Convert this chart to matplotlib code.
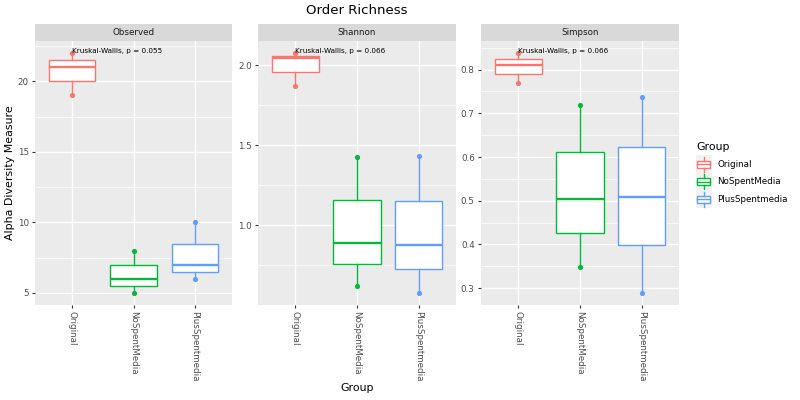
import matplotlib
matplotlib.use("Agg")
import matplotlib.pyplot as plt
from matplotlib.patches import Rectangle, Patch
from matplotlib.lines import Line2D
from matplotlib.legend_handler import HandlerBase
from matplotlib.ticker import MultipleLocator, AutoMinorLocator, FormatStrFormatter
import numpy as np

plt.rcParams['font.family'] = ['DejaVu Sans']

groups = ['Original', 'NoSpentMedia', 'PlusSpentmedia']
colors = ['#F8766D', '#00BA38', '#619CFF']
measures = ['Observed', 'Shannon', 'Simpson']

observed_original = [19, 21, 22]
observed_nospent = [5, 6, 8]
observed_plusspent = [6, 7, 10]

shannon_original = [1.871, 2.045, 2.077]
shannon_nospent = [0.620, 0.892, 1.427]
shannon_plusspent = [0.577, 0.874, 1.431]

simpson_original = [0.769, 0.811, 0.838]
simpson_nospent = [0.349, 0.503, 0.720]
simpson_plusspent = [0.289, 0.509, 0.738]

p_labels = ['Kruskal-Wallis, p = 0.055', 'Kruskal-Wallis, p = 0.066', 'Kruskal-Wallis, p = 0.066']
major_steps = [5, 0.5, 0.1]
tick_formats = ['%d', '%.1f', '%.1f']

data = [
    [observed_original, observed_nospent, observed_plusspent],
    [shannon_original, shannon_nospent, shannon_plusspent],
    [simpson_original, simpson_nospent, simpson_plusspent],
]

W, H = 800, 400
fig = plt.figure(figsize=(8, 4), dpi=100)
fig.patch.set_facecolor('white')

panel_x = [(35, 232), (258, 456), (481, 679)]
py0, py1 = 41, 305
sy0 = 24

def fx(px):
    return px / W

def fy(py):
    return 1 - py / H

for i, (meas, vals) in enumerate(zip(measures, data)):
    x0, x1 = panel_x[i]
    ax = fig.add_axes([fx(x0), fy(py1), fx(x1 - x0), (py1 - py0) / H])
    ax.set_facecolor('#EBEBEB')
    for s in ax.spines.values():
        s.set_visible(False)
    positions = np.arange(1, len(groups) + 1)
    # points
    for j, v in enumerate(vals):
        ax.scatter([positions[j]] * len(v), v, s=14, color=colors[j], zorder=2, linewidths=0)
    bp = ax.boxplot(vals, positions=positions, widths=0.76, whis=(0, 100), showfliers=False,
                    showcaps=False, patch_artist=True, zorder=3)
    for j in range(len(groups)):
        c = colors[j]
        bp['boxes'][j].set(facecolor='white', edgecolor=c, linewidth=1.0)
        bp['medians'][j].set(color=c, linewidth=1.7, solid_capstyle='butt')
        for w in bp['whiskers'][2 * j:2 * j + 2]:
            w.set(color=c, linewidth=1.0)
    allv = np.concatenate([np.array(v, dtype=float) for v in vals])
    lo, hi = allv.min(), allv.max()
    pad = (hi - lo) * 0.05
    ax.set_ylim(lo - pad, hi + pad)
    ax.set_xlim(0.4, 3.6)
    ax.yaxis.set_major_locator(MultipleLocator(major_steps[i]))
    ax.yaxis.set_minor_locator(AutoMinorLocator(2))
    ax.yaxis.set_major_formatter(FormatStrFormatter(tick_formats[i]))
    ax.set_axisbelow(True)
    ax.grid(which='major', color='white', linewidth=1.0)
    ax.grid(which='minor', axis='y', color='white', linewidth=0.5)
    ax.set_xticks(positions)
    ax.set_xticklabels(groups, rotation=270, ha='center', va='top')
    ax.tick_params(axis='both', which='major', length=2.5, width=0.8, color='#333333',
                   labelsize=6.3, labelcolor='#4D4D4D', pad=2)
    ax.tick_params(axis='y', which='minor', length=0)
    ax.text(1, hi, p_labels[i], ha='left', va='baseline', fontsize=5.2, color='black', zorder=5)
    # strip
    sax = fig.add_axes([fx(x0), fy(py0), fx(x1 - x0), (py0 - sy0) / H])
    sax.set_facecolor('#D9D9D9')
    sax.set_xticks([]); sax.set_yticks([])
    for s in sax.spines.values():
        s.set_visible(False)
    sax.text(0.5, 0.5, meas, ha='center', va='center', fontsize=6.3, color='#1A1A1A',
             transform=sax.transAxes)

fig.text(fx(357), fy(10), 'Order Richness', ha='center', va='center', fontsize=9.5, color='black')
fig.text(fx(357), fy(388), 'Group', ha='center', va='center', fontsize=7.9, color='black')
fig.text(fx(10), fy(173), 'Alpha Diversity Measure', ha='center', va='center', rotation=90,
         fontsize=7.9, color='black')


class BoxHandler(HandlerBase):
    def create_artists(self, legend, orig_handle, xdescent, ydescent, width, height, fontsize, trans):
        c = orig_handle.get_edgecolor()
        x0, y0 = -xdescent, -ydescent
        arts = [Rectangle((x0, y0), width, height, facecolor='#F2F2F2', edgecolor='none', transform=trans)]
        bw = width * 0.84
        bh = height * 0.42
        bx = x0 + (width - bw) / 2
        by = y0 + (height - bh) / 2
        arts.append(Rectangle((bx, by), bw, bh, facecolor='white', edgecolor=c, linewidth=1.0, transform=trans))
        arts.append(Line2D([bx, bx + bw], [y0 + height / 2] * 2, color=c, linewidth=1.0, transform=trans))
        arts.append(Line2D([x0 + width / 2] * 2, [by + bh, y0 + height * 0.92], color=c, linewidth=1.0, transform=trans))
        arts.append(Line2D([x0 + width / 2] * 2, [by, y0 + height * 0.08], color=c, linewidth=1.0, transform=trans))
        return arts


handles = [Patch(facecolor='white', edgecolor=c) for c in colors]
fig.text(fx(696), fy(146.5), 'Group', ha='left', va='center', fontsize=7.9, color='black')
leg = fig.legend(handles, groups, loc='upper left', bbox_to_anchor=(fx(696), fy(155.5)),
                 handler_map={Patch: BoxHandler()}, frameon=False, fontsize=6.3,
                 handlelength=1.8, handleheight=2.7, labelspacing=0.0, handletextpad=0.6,
                 borderpad=0.0, borderaxespad=0)

fig.savefig('out.png', dpi=100)
